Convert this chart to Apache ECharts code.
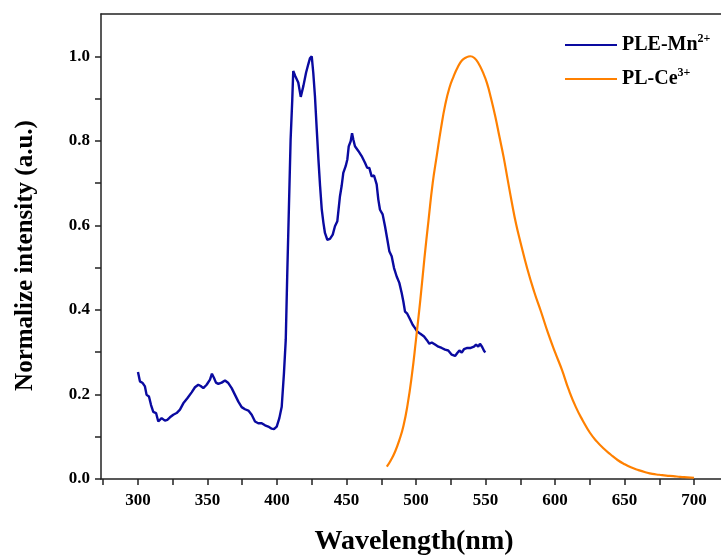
<!DOCTYPE html>
<html>
<head>
<meta charset="utf-8">
<script src="https://cdn.jsdelivr.net/npm/echarts@6/dist/echarts.min.js"></script>
<style>html,body{margin:0;padding:0;background:#fff;}#c{width:721px;height:556px;}</style>
</head>
<body>
<div id="c"></div>
<script>
// PLE-Mn2+ excitation spectrum
const pleWavelength = [300,301.4,302.6,303.4,305,306.2,307.9,309.4,311,313,314.6,317,319.4,321.1,323,325.4,327.8,330.2,332.6,335.5,338.6,341,343.4,345.1,347,349.4,351.8,353.2,354.7,356.1,357.8,360.2,362.6,365,367.4,369.8,372.2,374.6,377,379.4,381.8,384.2,386.5,389,391.4,393.7,396.2,397.8,399.8,401.7,403.4,405,406.3,407.4,408.6,409.8,411,411.7,412.4,413.2,414.2,415.3,417.1,419,420.9,422.5,423.7,425,426.1,427.3,428.6,429.8,431,432.2,433.4,434.5,436.2,438.1,440.1,441.7,443.4,445.3,446.5,447.7,449.4,450.6,451.6,453,454,454.9,456.1,458.5,460.9,463.3,464.9,466.4,468.1,469.8,471.7,472.9,474.1,476,477.7,479.4,480.8,482.5,484.2,486.1,488,489.7,490.9,492.1,493.7,495.7,497.6,499.3,500.9,502.9,504.1,505.8,507.7,509.6,511.3,513.7,516.1,518.5,520.9,523.2,525.7,528.1,529.7,531.2,532.9,534.5,536.9,539.4,541.7,543.2,544.8,546,547.5,549.1,550];
const pleIntensity = [0.253,0.231,0.233,0.227,0.219,0.199,0.195,0.175,0.159,0.156,0.136,0.144,0.138,0.140,0.146,0.152,0.156,0.164,0.179,0.191,0.205,0.217,0.223,0.220,0.215,0.223,0.235,0.249,0.239,0.228,0.225,0.228,0.233,0.227,0.215,0.199,0.183,0.170,0.165,0.162,0.152,0.136,0.132,0.132,0.127,0.124,0.119,0.118,0.124,0.144,0.171,0.250,0.329,0.487,0.645,0.803,0.898,0.965,0.969,0.953,0.957,0.938,0.904,0.930,0.961,0.981,0.995,1.000,0.961,0.906,0.827,0.756,0.693,0.638,0.606,0.582,0.566,0.568,0.578,0.598,0.610,0.669,0.693,0.724,0.740,0.756,0.787,0.799,0.818,0.803,0.787,0.776,0.764,0.748,0.736,0.736,0.716,0.718,0.697,0.661,0.637,0.626,0.598,0.566,0.539,0.527,0.499,0.479,0.464,0.440,0.420,0.396,0.391,0.378,0.365,0.357,0.349,0.344,0.345,0.337,0.329,0.320,0.323,0.318,0.313,0.310,0.306,0.304,0.294,0.291,0.298,0.304,0.299,0.307,0.310,0.310,0.313,0.318,0.313,0.320,0.313,0.302,0.300];
// PL-Ce3+ emission spectrum
const plWavelength = [479,482,485,488,491,494,497,500,503,506,509,512,515,518,521,524,527,530,533,536,539,542,545,548,551,554,557,560,563,566,569,572,575,580,585,590,595,600,605,610,615,620,625,630,635,640,645,650,655,660,665,670,675,680,685,690,695,700];
const plIntensity = [0.029,0.045,0.065,0.092,0.126,0.177,0.245,0.330,0.420,0.520,0.612,0.700,0.766,0.830,0.885,0.925,0.952,0.974,0.990,0.997,1.000,0.996,0.983,0.963,0.937,0.900,0.858,0.810,0.762,0.707,0.653,0.603,0.562,0.498,0.443,0.395,0.345,0.300,0.258,0.210,0.170,0.138,0.110,0.089,0.072,0.058,0.045,0.035,0.027,0.021,0.016,0.012,0.010,0.008,0.007,0.005,0.004,0.003];
// axis ticks
const xLabelValues = [300,350,400,450,500,550,600,650,700];
const xTickValues = [275,300,325,350,375,400,425,450,475,500,525,550,575,600,625,650,675,700];
const yLabelValues = [0,0.2,0.4,0.6,0.8,1.0];
const yTickValues = [0,0.1,0.2,0.3,0.4,0.5,0.6,0.7,0.8,0.9,1.0];
const seriesNames = ['PLE-Mn', 'PL-Ce'];
const seriesSup = ['2+', '3+'];

const FONT = '"Liberation Serif", "Times New Roman", serif';
const pleData = pleWavelength.map((w, i) => [w, pleIntensity[i]]);
const plData = plWavelength.map((w, i) => [w, plIntensity[i]]);

const chart = echarts.init(document.getElementById('c'), null, {renderer: 'canvas'});
chart.setOption({
  animation: false,
  backgroundColor: '#fff',
  grid: {left: 101, right: 0, top: 14, bottom: 77, containLabel: false, outerBoundsMode: 'none'},
  legend: {
    orient: 'vertical', left: 560, top: 28, itemWidth: 52, itemHeight: 14, itemGap: 12,
    icon: 'path://M0,6L52,6L52,8L0,8Z',
    data: seriesNames,
    formatter: function (name) { return '{a|' + name + '}{s|' + seriesSup[seriesNames.indexOf(name)] + '}'; },
    textStyle: {
      fontFamily: FONT, color: '#000',
      rich: {
        a: {fontFamily: FONT, fontWeight: 'bold', fontSize: 20, color: '#000', lineHeight: 24},
        s: {fontFamily: FONT, fontWeight: 'bold', fontSize: 12, color: '#000', verticalAlign: 'top', lineHeight: 24, padding: [0, 0, 10, 0]}
      }
    }
  },
  xAxis: [{
    type: 'value', min: 273.4, max: 719.4, position: 'bottom',
    name: 'Wavelength(nm)', nameLocation: 'middle', nameGap: 49,
    nameTextStyle: {fontFamily: FONT, fontWeight: 'bold', fontSize: 28, color: '#000', padding: [0, 0, 0, 6]},
    axisLine: {show: true, lineStyle: {color: '#222', width: 1.5}},
    axisTick: {show: true, length: 6, lineStyle: {color: '#222', width: 1.5}, customValues: xTickValues},
    axisLabel: {customValues: xLabelValues, margin: 13, fontFamily: FONT, fontWeight: 'bold', fontSize: 17, color: '#000'},
    splitLine: {show: false}
  }, {
    type: 'value', min: 273.4, max: 719.4, position: 'top',
    axisLine: {show: true, lineStyle: {color: '#222', width: 1.5}},
    axisTick: {show: false}, axisLabel: {show: false}, splitLine: {show: false}
  }],
  yAxis: {
    type: 'value', min: 0, max: 1.1,
    name: 'Normalize intensity (a.u.)', nameLocation: 'middle', nameGap: 63,
    nameTextStyle: {fontFamily: FONT, fontWeight: 'bold', fontSize: 25, color: '#000', padding: [0, 18, 0, 0]},
    axisLine: {show: true, lineStyle: {color: '#222', width: 1.5}},
    axisTick: {show: true, length: 6, lineStyle: {color: '#222', width: 1.5}, customValues: yTickValues},
    axisLabel: {customValues: yLabelValues, margin: 11, fontFamily: FONT, fontWeight: 'bold', fontSize: 17, color: '#000',
      formatter: v => v.toFixed(1)},
    splitLine: {show: false}
  },
  series: [{
    name: 'PLE-Mn', type: 'line', data: pleData, symbol: 'none', smooth: false,
    lineStyle: {color: '#0A0AA0', width: 2.4}, itemStyle: {color: '#0A0AA0'}
  }, {
    name: 'PL-Ce', type: 'line', data: plData, symbol: 'none', smooth: true,
    lineStyle: {color: '#FF8000', width: 2.2}, itemStyle: {color: '#FF8000'}
  }]
});
</script>
</body>
</html>
